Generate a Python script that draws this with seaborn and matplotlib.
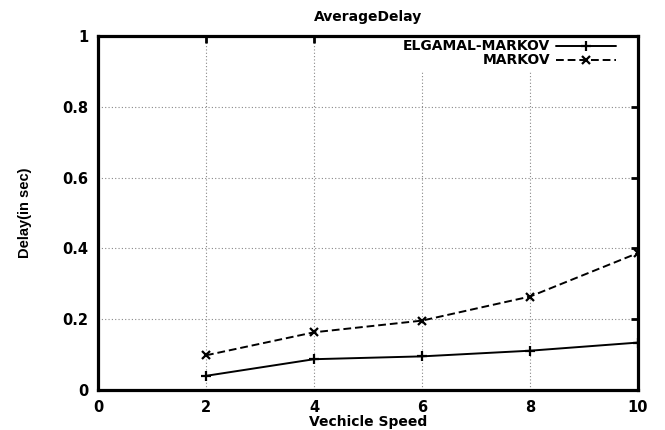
import matplotlib
matplotlib.use("Agg")
import matplotlib.pyplot as plt
import seaborn as sns
import pandas as pd
from matplotlib.ticker import FuncFormatter

speed = [2, 4, 6, 8, 10]
elgamal_markov = [0.040, 0.087, 0.095, 0.111, 0.134]
markov = [0.098, 0.163, 0.196, 0.264, 0.387]
series_names = ["ELGAMAL-MARKOV", "MARKOV"]
x_ticks = [0, 2, 4, 6, 8, 10]
y_ticks = [0, 0.2, 0.4, 0.6, 0.8, 1.0]

sns.set_style("white")
plt.rcParams["font.family"] = ["DejaVu Sans"]
plt.rcParams["font.weight"] = "bold"
plt.rcParams["text.color"] = "black"
plt.rcParams["axes.labelcolor"] = "black"
plt.rcParams["xtick.color"] = "black"
plt.rcParams["ytick.color"] = "black"

fig = plt.figure(figsize=(6.65, 4.3), dpi=100)
ax = fig.add_axes([98 / 665, 1 - 390 / 430, 540 / 665, 354 / 430])

df1 = pd.DataFrame({"x": speed, "y": elgamal_markov})
df2 = pd.DataFrame({"x": speed, "y": markov})
sns.lineplot(data=df1, x="x", y="y", ax=ax, color="black", marker="+",
             markersize=7, markeredgewidth=1.6, markeredgecolor="black",
             linewidth=1.4, label=series_names[0], zorder=3)
sns.lineplot(data=df2, x="x", y="y", ax=ax, color="black", marker="x",
             markersize=5.5, markeredgewidth=1.6, markeredgecolor="black",
             linewidth=1.4, linestyle=(0, (4, 2)), label=series_names[1],
             zorder=3)

ax.set_xlim(0, 10)
ax.set_ylim(0, 1)
ax.set_xticks(x_ticks)
ax.set_yticks(y_ticks)
ax.yaxis.set_major_formatter(FuncFormatter(lambda v, p: "%g" % v))
ax.grid(True, color="#888888", linestyle=(0, (1, 2)), linewidth=0.8)
ax.set_axisbelow(True)
for s in ax.spines.values():
    s.set_visible(True)
    s.set_linewidth(2.3)
    s.set_color("black")
    s.set_zorder(5)
ax.tick_params(direction="in", length=5, width=2, top=True, right=True,
               labelsize=10.5, pad=7, colors="black")
for lbl in ax.get_xticklabels() + ax.get_yticklabels():
    lbl.set_fontweight("bold")

ax.set_title("AverageDelay", fontsize=10, fontweight="bold", pad=11)
ax.set_xlabel("Vechicle Speed", fontsize=10, fontweight="bold", labelpad=0)
ax.set_ylabel("Delay(in sec)", fontsize=10.5, fontweight="bold",
              family="Liberation Sans")
ax.yaxis.set_label_coords(-0.122, 0.5)

leg = ax.legend(loc="upper right", bbox_to_anchor=(0.965, 1.0),
                markerfirst=False, frameon=True,
                fancybox=False, edgecolor="white", framealpha=1,
                handlelength=4.3, handletextpad=0.4,
                labelspacing=0.0, borderpad=0.25, borderaxespad=0.0,
                prop={"weight": "bold", "size": 10})
leg.set_zorder(4)

fig.savefig("out.png", dpi=100)
